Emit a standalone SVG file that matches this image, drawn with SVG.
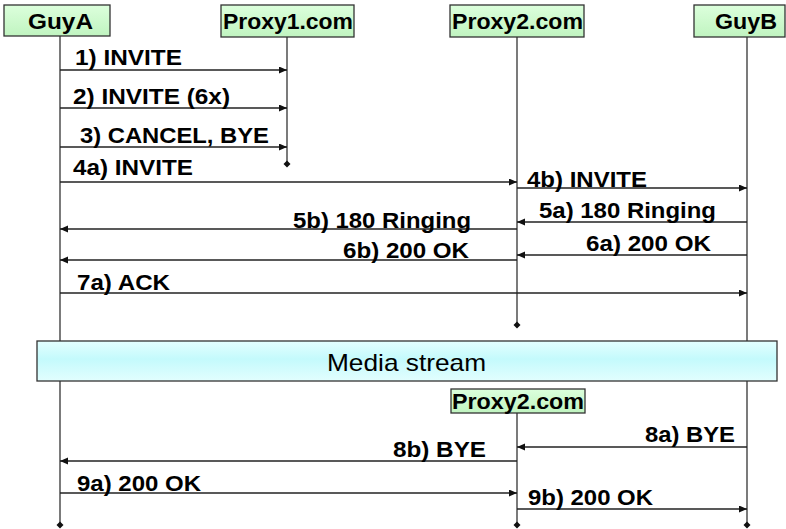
<svg xmlns="http://www.w3.org/2000/svg" width="786" height="529" viewBox="0 0 786 529">
<defs>
<linearGradient id="gBox" x1="0" y1="0" x2="0" y2="1">
<stop offset="0" stop-color="#dcffdc"/>
<stop offset="1" stop-color="#c0f4c0"/>
</linearGradient>
<linearGradient id="gMedia" x1="0" y1="0" x2="0" y2="1">
<stop offset="0" stop-color="#e4ffff"/>
<stop offset="0.45" stop-color="#c4fafc"/>
<stop offset="1" stop-color="#e2fefe"/>
</linearGradient>
<marker id="arr" markerUnits="userSpaceOnUse" markerWidth="9" markerHeight="8" refX="8" refY="3.5" orient="auto">
<path d="M0,0 L8,3.5 L0,7 Z" fill="#111"/>
</marker>
<marker id="dot" markerUnits="userSpaceOnUse" markerWidth="8" markerHeight="8" refX="4" refY="4" orient="auto">
<path d="M4,0.5 L7.5,4 L4,7.5 L0.5,4 Z" fill="#111"/>
</marker>
</defs>
<style>
.box{fill:url(#gBox);stroke:#333;stroke-width:1.3}
.life{stroke:#333;stroke-width:1.3;fill:none}
.msg{stroke:#222;stroke-width:1.3;fill:none;marker-end:url(#arr)}
.hd{font-family:"Liberation Sans",Arial,sans-serif;font-weight:bold;font-size:22.5px;fill:#000}
.lb{font-family:"Liberation Sans",Arial,sans-serif;font-weight:bold;font-size:22.5px;fill:#000}
.md{font-family:"Liberation Sans",Arial,sans-serif;font-size:24px;fill:#000}
</style>
<rect width="786" height="529" fill="#fff"/>

<g id="lifelines">
<line class="life" x1="60" y1="36" x2="60" y2="525" marker-end="url(#dot)"/>
<line class="life" x1="287" y1="37" x2="287" y2="164" marker-end="url(#dot)"/>
<line class="life" x1="517" y1="37" x2="517" y2="325" marker-end="url(#dot)"/>
<line class="life" x1="747" y1="37" x2="747" y2="525" marker-end="url(#dot)"/>
<line class="life" x1="517" y1="413" x2="517" y2="525" marker-end="url(#dot)"/>
</g>

<g id="GuyA">
<rect class="box" x="4" y="5" width="106" height="31"/>
<text class="hd" x="28" y="29" textLength="65" lengthAdjust="spacingAndGlyphs">GuyA</text>
</g>
<g id="Proxy1">
<rect class="box" x="221" y="5" width="133" height="32"/>
<text class="hd" x="223" y="29" textLength="130" lengthAdjust="spacingAndGlyphs">Proxy1.com</text>
</g>
<g id="Proxy2">
<rect class="box" x="450" y="5" width="134" height="32"/>
<text class="hd" x="452" y="29" textLength="131" lengthAdjust="spacingAndGlyphs">Proxy2.com</text>
</g>
<g id="GuyB">
<rect class="box" x="694" y="5" width="91" height="32"/>
<text class="hd" x="715" y="29" textLength="62" lengthAdjust="spacingAndGlyphs">GuyB</text>
</g>

<g id="media">
<rect x="37" y="341" width="740" height="40" fill="url(#gMedia)" stroke="#333" stroke-width="1.3"/>
<text class="md" x="327" y="371" textLength="159" lengthAdjust="spacingAndGlyphs">Media stream</text>
</g>

<g id="Proxy2b">
<rect class="box" x="451" y="389" width="134" height="24"/>
<text class="hd" x="452" y="409" textLength="132" lengthAdjust="spacingAndGlyphs">Proxy2.com</text>
</g>

<g id="connectors">
<line class="msg" x1="60" y1="70" x2="287" y2="70"/>
<line class="msg" x1="60" y1="108" x2="287" y2="108"/>
<line class="msg" x1="60" y1="147" x2="287" y2="147"/>
<line class="msg" x1="60" y1="182" x2="517" y2="182"/>
<line class="msg" x1="517" y1="188" x2="747" y2="188"/>
<line class="msg" x1="747" y1="222" x2="517" y2="222"/>
<line class="msg" x1="517" y1="229" x2="60" y2="229"/>
<line class="msg" x1="747" y1="255" x2="517" y2="255"/>
<line class="msg" x1="517" y1="260" x2="60" y2="260"/>
<line class="msg" x1="60" y1="293" x2="747" y2="293"/>
<line class="msg" x1="747" y1="447" x2="517" y2="447"/>
<line class="msg" x1="517" y1="461" x2="60" y2="461"/>
<line class="msg" x1="60" y1="493" x2="517" y2="493"/>
<line class="msg" x1="517" y1="509" x2="747" y2="509"/>
</g>

<g id="labels">
<text class="lb" x="75" y="65" textLength="107" lengthAdjust="spacingAndGlyphs">1) INVITE</text>
<text class="lb" x="73" y="104" textLength="157" lengthAdjust="spacingAndGlyphs">2) INVITE (6x)</text>
<text class="lb" x="80" y="143" textLength="189" lengthAdjust="spacingAndGlyphs">3) CANCEL, BYE</text>
<text class="lb" x="73" y="175" textLength="120" lengthAdjust="spacingAndGlyphs">4a) INVITE</text>
<text class="lb" x="527" y="187" textLength="120" lengthAdjust="spacingAndGlyphs">4b) INVITE</text>
<text class="lb" x="539" y="218" textLength="177" lengthAdjust="spacingAndGlyphs">5a) 180 Ringing</text>
<text class="lb" x="293" y="228" textLength="178" lengthAdjust="spacingAndGlyphs">5b) 180 Ringing</text>
<text class="lb" x="586" y="251" textLength="125" lengthAdjust="spacingAndGlyphs">6a) 200 OK</text>
<text class="lb" x="343" y="258" textLength="126" lengthAdjust="spacingAndGlyphs">6b) 200 OK</text>
<text class="lb" x="77" y="290" textLength="93" lengthAdjust="spacingAndGlyphs">7a) ACK</text>
<text class="lb" x="645" y="442" textLength="90" lengthAdjust="spacingAndGlyphs">8a) BYE</text>
<text class="lb" x="393" y="457" textLength="93" lengthAdjust="spacingAndGlyphs">8b) BYE</text>
<text class="lb" x="77" y="491" textLength="124" lengthAdjust="spacingAndGlyphs">9a) 200 OK</text>
<text class="lb" x="528" y="505" textLength="125" lengthAdjust="spacingAndGlyphs">9b) 200 OK</text>
</g>
</svg>
